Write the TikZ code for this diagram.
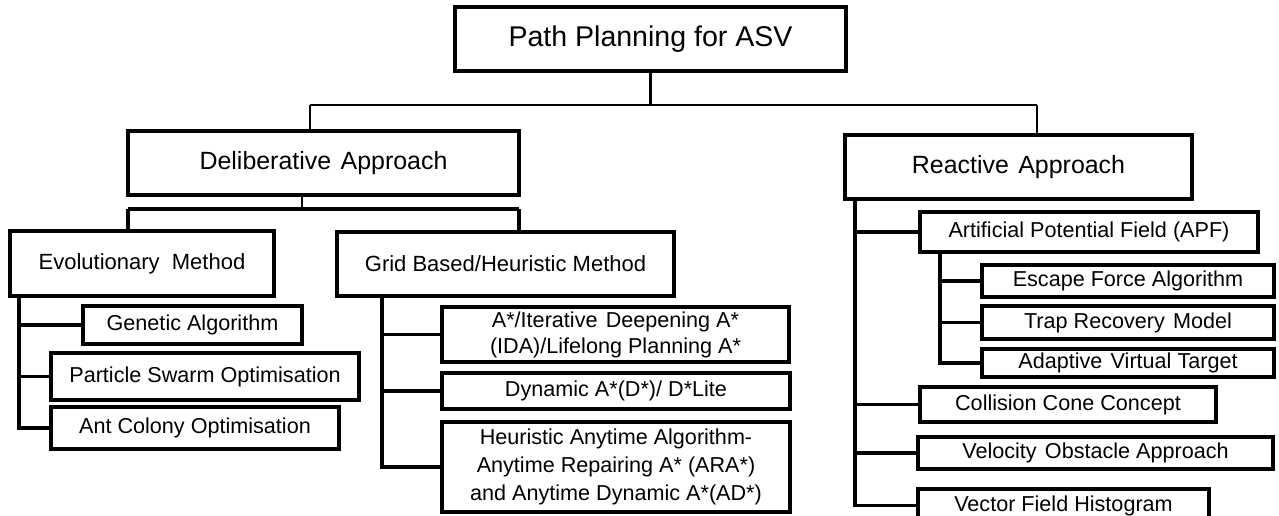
\documentclass[tikz,border=0pt]{standalone}
\usepackage{fontspec}
\setmainfont{Liberation Sans}
\newcommand{\mybox}[7]{\node[box,#6,minimum width={(#4-#2)*0.75pt},minimum height={(#5-#3)*0.75pt}] (#1) at ({(#2+#4)/2},{(#3+#5)/2}) {#7};}
\newcommand{\wsp}{\hspace{0.38em}}
\tikzset{
  box/.style={draw=black, line width=2.4pt, inner sep=0pt, align=center, text=black},
  fa/.style={font=\fontsize{21.4pt}{25pt}\selectfont},
  fb/.style={font=\fontsize{18.7pt}{22pt}\selectfont},
  fc/.style={font=\fontsize{16.5pt}{19.5pt}\selectfont},
  fd/.style={font=\fontsize{16.2pt}{19.5pt}\selectfont},
  fe/.style={font=\fontsize{16.2pt}{21pt}\selectfont},
  conn/.style={line width=1.6pt, draw=black},
  lconn/.style={line width=2.4pt, draw=black},
}
\begin{document}
\begin{tikzpicture}[x=0.75pt,y=-0.75pt]
\useasboundingbox[fill=white] (0,0) rectangle (1279,515);
% top levels
\mybox{root}{455}{7}{846}{71}{fa}{Path Planning for ASV}
\mybox{delib}{128}{131}{519}{195}{fb}{Deliberative\wsp Approach}
\mybox{react}{845}{135}{1192}{199}{fb}{Reactive\wsp Approach}
% second level
\mybox{evo}{10}{231}{274}{296}{fc}{Evolutionary~~Method}
\mybox{grid}{337}{232}{674}{296}{fc}{Grid Based/Heuristic Method}
% evolutionary leaves
\mybox{ga}{83}{306}{302}{344}{fd}{Genetic Algorithm}
\mybox{pso}{51}{353}{359}{400}{fd}{Particle Swarm Optimisation}
\mybox{aco}{51}{407}{339}{449}{fd}{Ant Colony Optimisation}
% grid leaves
\mybox{astar}{442}{307}{789}{362}{fd}{A*/Iterative\wsp Deepening A*\\(IDA)/Lifelong Planning A*}
\mybox{dyn}{442}{373}{790}{409}{fd}{Dynamic A*(D*)/ D*Lite}
\mybox{heur}{442}{422}{790}{512}{fe}{Heuristic Anytime Algorithm-\\Anytime Repairing A* (ARA*)\\and Anytime Dynamic A*(AD*)}
% reactive leaves
\mybox{apf}{920}{212}{1258}{252}{fd}{Artificial Potential Field (APF)}
\mybox{esc}{982}{265}{1274}{297}{fd}{Escape Force Algorithm}
\mybox{trap}{982}{306}{1274}{339}{fd}{Trap Recovery\wsp Model}
\mybox{avt}{982}{349}{1274}{377}{fd}{Adaptive\wsp Virtual Target}
\mybox{col}{920}{387}{1216}{422}{fd}{Collision Cone Concept}
\mybox{vel}{918}{437}{1273}{469}{fd}{Velocity\wsp Obstacle Approach}
\mybox{vec}{918}{489}{1209}{522}{fd}{Vector Field Histogram}
% top connectors
\coordinate (dj) at (310,105);
\coordinate (rj) at (1037,105);
\draw[conn] (root.south) -- (root.south |- dj);
\draw[conn] (dj) -- (rj);
\draw[conn] (dj) -- (dj |- delib.north);
\draw[conn] (rj) -- (rj |- react.north);
% deliberative connectors
\coordinate (db) at (302,209);
\coordinate (el) at (128,209);
\coordinate (gr) at (519,209);
\draw[conn] (db |- delib.south) -- (db);
\draw[lconn] (el) -- (gr);
\draw[lconn] (el) -- (el |- evo.north);
\draw[lconn] (gr) -- (gr |- grid.north);
% evolutionary trunk
\coordinate (et) at (19,0);
\draw[lconn] (et |- evo.south) -- (et |- aco.west) -- (aco.west);
\draw[lconn] (et |- ga.west) -- (ga.west);
\draw[lconn] (et |- pso.west) -- (pso.west);
% grid trunk
\coordinate (gt) at (382,0);
\draw[lconn] (gt |- grid.south) -- (gt |- heur.west) -- (heur.west);
\draw[lconn] (gt |- astar.west) -- (astar.west);
\draw[lconn] (gt |- dyn.west) -- (dyn.west);
% reactive trunk
\coordinate (rt) at (855,0);
\draw[lconn] (rt |- react.south) -- (rt |- vec.west) -- (vec.west);
\draw[lconn] (rt |- apf.west) -- (apf.west);
\draw[lconn] (rt |- col.west) -- (col.west);
\draw[lconn] (rt |- vel.west) -- (vel.west);
% APF trunk
\coordinate (at) at (940,0);
\draw[lconn] (at |- apf.south) -- (at |- avt.west) -- (avt.west);
\draw[lconn] (at |- esc.west) -- (esc.west);
\draw[lconn] (at |- trap.west) -- (trap.west);
\end{tikzpicture}
\end{document}
